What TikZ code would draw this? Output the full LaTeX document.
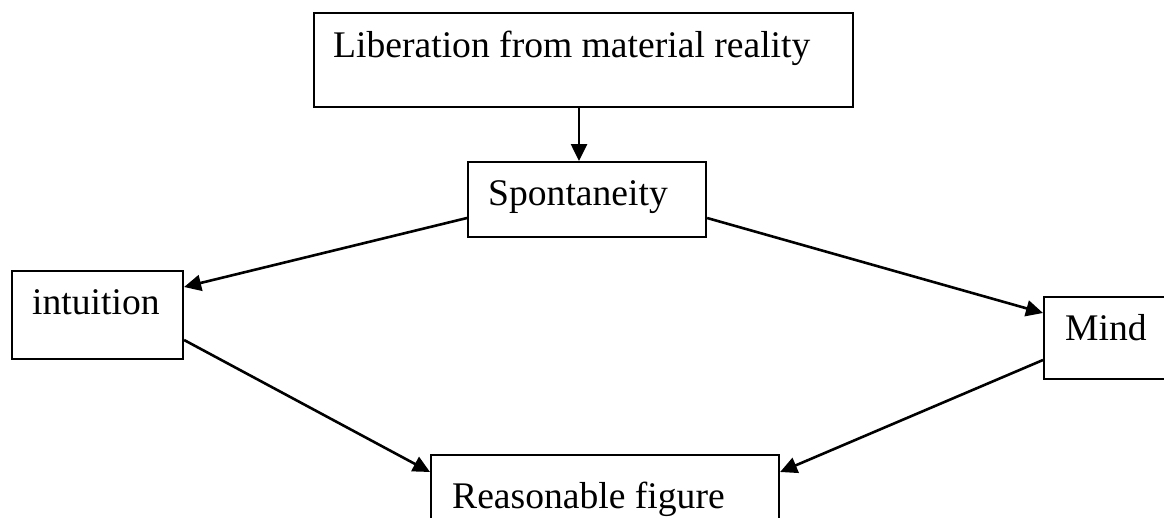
\documentclass[tikz,border=0pt]{standalone}
\usepackage{fontspec}
\setmainfont{Liberation Serif}
\usetikzlibrary{arrows.meta}
\begin{document}
\begin{tikzpicture}[x=1pt,y=-1pt,
  box/.style={draw=black,line width=2.1pt,rectangle,inner sep=0pt,anchor=north west,fill=white},
  txt/.style={inner sep=0pt,anchor=base west,font=\fontsize{37.6}{44}\selectfont},
  conn/.style={line width=2.6pt,-{Triangle[length=17pt,width=16pt]}}]
\useasboundingbox (0,0) rectangle (1164,517);
\fill[white] (0,0) rectangle (1164,517);
\node[box,minimum width=539pt,minimum height=94pt] (top) at (313,12) {};
\node[box,minimum width=238pt,minimum height=75pt] (sp) at (467,161) {};
\node[box,minimum width=171pt,minimum height=88pt] (in) at (11,270) {};
\node[box,minimum width=127pt,minimum height=82pt] (mi) at (1043,296) {};
\node[box,minimum width=348pt,minimum height=80pt] (re) at (430,454) {};
\node[txt] (toptxt) at (333,57) {Liberation from material reality};
\node[txt] (sptxt) at (488,205) {Spontaneity};
\node[txt] (intxt) at (32,314) {intuition};
\node[txt] (mitxt) at (1065,340) {Mind};
\node[txt] (retxt) at (452,508) {Reasonable figure};
\draw[conn] ([xshift=266pt]top.south west) -- ([xshift=112pt]sp.north west);
\draw[conn] ([yshift=-57pt]sp.north west) -- ([yshift=-17pt]in.north east);
\draw[conn] ([yshift=-57pt]sp.north east) -- ([yshift=-17pt]mi.north west);
\draw[conn] ([yshift=-70pt]in.north east) -- ([yshift=-18pt]re.north west);
\draw[conn] ([yshift=-64pt]mi.north west) -- ([yshift=-18pt]re.north east);
\end{tikzpicture}
\end{document}
